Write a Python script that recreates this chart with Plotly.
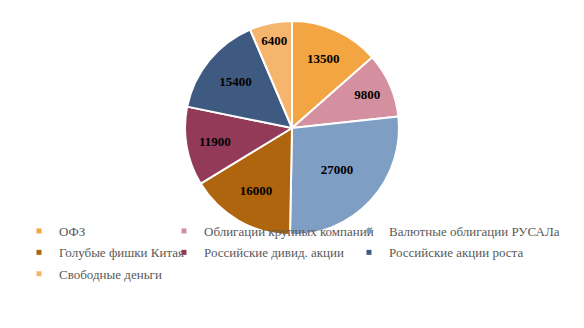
import plotly.graph_objects as go

labels = ["ОФЗ", "Облигации крупных компаний", "Валютные облигации РУСАЛа",
          "Голубые фишки Китая", "Российские дивид. акции", "Российские акции роста",
          "Свободные деньги"]
values = [13500, 9800, 27000, 16000, 11900, 15400, 6400]
colors = ["#F2A541", "#D4909F", "#7F9EC4", "#AF640E", "#923A58", "#3E5A80", "#F5B56C"]

W, H = 584, 328
cx, cy, r = 292, 128, 107

fig = go.Figure()
fig.add_trace(go.Pie(
    labels=labels, values=values, sort=False, direction="clockwise", rotation=0,
    marker=dict(colors=colors, line=dict(color="white", width=2)),
    textposition="inside", insidetextorientation="horizontal",
    texttemplate="<b>%{value:.0f}</b>",
    textfont=dict(family="Liberation Serif", size=13, color="black"),
    domain=dict(x=[(cx - r) / W, (cx + r) / W], y=[(H - cy - r) / H, (H - cy + r) / H]),
    showlegend=False, hoverinfo="label+value",
))

legend_names = ["legend", "legend2", "legend3"]
for i, (lab, col) in enumerate(zip(labels, colors)):
    fig.add_trace(go.Scatter(
        x=[None], y=[None], mode="markers", name=lab, legendgroup=lab,
        marker=dict(symbol="square", size=5, color=col),
        legend=legend_names[i % 3], showlegend=True,
    ))

legend_font = dict(family="Liberation Serif", size=13, color="#595959")
col_x = [19, 164, 349]
leg_common = dict(orientation="v", xanchor="left", y=(H - 216) / H, yanchor="top",
                  bgcolor="rgba(0,0,0,0)", tracegroupgap=1.5, font=legend_font,
                  itemsizing="trace")

fig.update_layout(
    width=W, height=H,
    margin=dict(l=0, r=0, t=0, b=0),
    paper_bgcolor="white", plot_bgcolor="white",
    xaxis=dict(visible=False), yaxis=dict(visible=False),
    legend=dict(x=col_x[0] / W, **leg_common),
    legend2=dict(x=col_x[1] / W, **leg_common),
    legend3=dict(x=col_x[2] / W, **leg_common),
)

fig.write_html("out.html", post_script="document.body.style.margin='0';",
               config={"displayModeBar": False})
